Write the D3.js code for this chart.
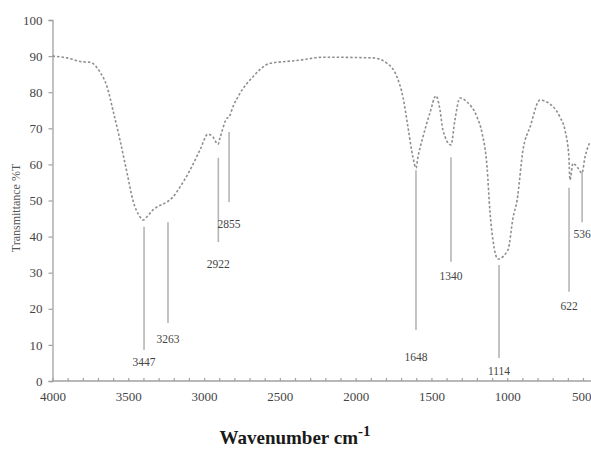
<!DOCTYPE html>
<html>
<head>
<meta charset="utf-8">
<script src="https://cdn.jsdelivr.net/npm/d3@7"></script>
<style>
  html, body { margin: 0; padding: 0; background: #fff; }
  svg { display: block; }
</style>
</head>
<body>
<svg id="chart" width="591" height="450"></svg>
<script>
// Spectrum (wavenumber cm-1, transmittance %T)
const wavenumbers = [4000, 3904, 3799, 3753, 3687, 3640, 3601, 3555, 3508, 3469, 3423, 3403, 3377, 3337, 3311, 3245, 3205, 3159, 3093, 3027, 2974, 2941, 2908, 2895, 2849, 2836, 2809, 2763, 2677, 2565, 2433, 2367, 2215, 1885, 1793, 1727, 1688, 1655, 1622, 1602, 1589, 1556, 1510, 1470, 1443, 1424, 1371, 1345, 1312, 1265, 1199, 1166, 1133, 1114, 1094, 1061, 995, 961, 935, 896, 849, 784, 698, 652, 619, 593, 586, 566, 533, 507, 487, 454];
const transmittance = [90, 89.5, 88.4, 88.3, 85.6, 81.5, 75, 66.8, 57.6, 50, 45.5, 44.6, 45.5, 47.4, 48.2, 49.6, 51, 53.7, 58.4, 64, 68.4, 67.6, 65.6, 67.3, 72.8, 73.1, 76, 79.7, 84.3, 88, 88.6, 88.9, 89.7, 89.5, 88, 84.2, 78.7, 70.4, 62, 59, 62, 67.6, 74.2, 79, 75, 69.5, 65.4, 72.3, 78.4, 77.3, 73.1, 68.7, 59.3, 47, 39, 33.8, 36.3, 45.4, 50, 64, 70.4, 77.8, 76, 73.1, 69.5, 62, 55.7, 60.3, 59, 57.6, 62, 66.2];

// Peak annotations
const peakLabels = ["3447", "3263", "2922", "2855", "1648", "1340", "1114", "622", "536"];
const peakWn     = [3396, 3238, 2906, 2835, 1602, 1371, 1054, 592, 506];
const peakTop    = [42.7, 44.0, 61.8, 69.0, 58.4, 62.0, 32.1, 53.5, 57.9];
const peakBottom = [8.6, 16.1, 38.5, 49.6, 14.1, 33.0, 6.4, 24.7, 44.0];
const peakLabelT = [5.4, 11.6, 32.3, 43.5, 6.6, 29.2, 2.7, 20.8, 40.7];

const xTickLabels = [4000, 3500, 3000, 2500, 2000, 1500, 1000, 500];
const yTickLabels = [0, 10, 20, 30, 40, 50, 60, 70, 80, 90, 100];

const svg = d3.select("#chart");
const serif = "'Liberation Serif', 'Times New Roman', serif";

const x = d3.scaleLinear().domain([4000, 500]).range([52.5, 583]);
const y = d3.scaleLinear().domain([0, 100]).range([381, 20]);

// Y axis
const yAxis = svg.append("g")
  .attr("transform", `translate(${x(4000)},0)`)
  .call(d3.axisLeft(y).tickValues(yTickLabels).tickSize(4).tickPadding(6));
yAxis.select(".domain").attr("stroke", "#a0a0a0").attr("stroke-width", 1.3);
yAxis.selectAll(".tick line").attr("stroke", "#a0a0a0").attr("stroke-width", 1.2);
yAxis.selectAll("text").attr("font-family", serif).attr("font-size", 13).attr("fill", "#444");

// X axis: minor ticks every 100, pointing up
const minorTicks = d3.range(4000, 399, -100);
const xAxisMinor = svg.append("g")
  .attr("transform", `translate(0,${y(0)})`)
  .call(d3.axisBottom(x).tickValues(minorTicks).tickSizeInner(-3).tickSizeOuter(0).tickFormat(""));
xAxisMinor.select(".domain").attr("d", `M${x(4000)},0H591`).attr("stroke", "#a0a0a0").attr("stroke-width", 1.3);
xAxisMinor.selectAll(".tick line").attr("stroke", "#a0a0a0").attr("stroke-width", 1.2);

const xAxisLabels = svg.append("g")
  .attr("transform", `translate(0,${y(0)})`)
  .call(d3.axisBottom(x).tickValues(xTickLabels).tickSize(0).tickPadding(11).tickFormat(d3.format("d")));
xAxisLabels.select(".domain").remove();
xAxisLabels.selectAll("text").attr("font-family", serif).attr("font-size", 13).attr("fill", "#444");
// keep the last label inside the frame
xAxisLabels.selectAll(".tick").filter(d => d === 500).select("text")
  .attr("text-anchor", "end").attr("dx", 8);

// Spectrum curve
const pts = wavenumbers.map((w, i) => [w, transmittance[i]]);
const line = d3.line().x(d => x(d[0])).y(d => y(d[1])).curve(d3.curveMonotoneX);
svg.append("path")
  .datum(pts)
  .attr("d", line)
  .attr("fill", "none")
  .attr("stroke", "#8f8f8f")
  .attr("stroke-width", 1.6)
  .attr("stroke-dasharray", "2.5,2");

// Peak marker lines + labels
const peaks = peakLabels.map((l, i) => ({ label: l, wn: peakWn[i], top: peakTop[i], bottom: peakBottom[i], lt: peakLabelT[i] }));
const pg = svg.append("g");
pg.selectAll("line").data(peaks).join("line")
  .attr("x1", d => x(d.wn)).attr("x2", d => x(d.wn))
  .attr("y1", d => y(d.top)).attr("y2", d => y(d.bottom))
  .attr("stroke", "#b5b5b5").attr("stroke-width", 1.6);
pg.selectAll("text").data(peaks).join("text")
  .attr("x", d => x(d.wn))
  .attr("y", d => y(d.lt))
  .attr("dy", "0.35em")
  .attr("text-anchor", "middle")
  .attr("font-family", serif).attr("font-size", 11.5).attr("fill", "#444")
  .text(d => d.label);

// Y title
svg.append("text")
  .attr("transform", "translate(20,208) rotate(-90)")
  .attr("text-anchor", "middle")
  .attr("font-family", serif).attr("font-size", 12).attr("fill", "#555")
  .text("Transmittance %T");

// X title
const xt = svg.append("text")
  .attr("x", 295).attr("y", 444)
  .attr("text-anchor", "middle")
  .attr("font-family", serif).attr("font-weight", "bold").attr("font-size", 19).attr("fill", "#1a1a1a");
xt.append("tspan").text("Wavenumber cm");
xt.append("tspan").attr("dy", -8).attr("font-size", 15).text("-1");
</script>
</body>
</html>
